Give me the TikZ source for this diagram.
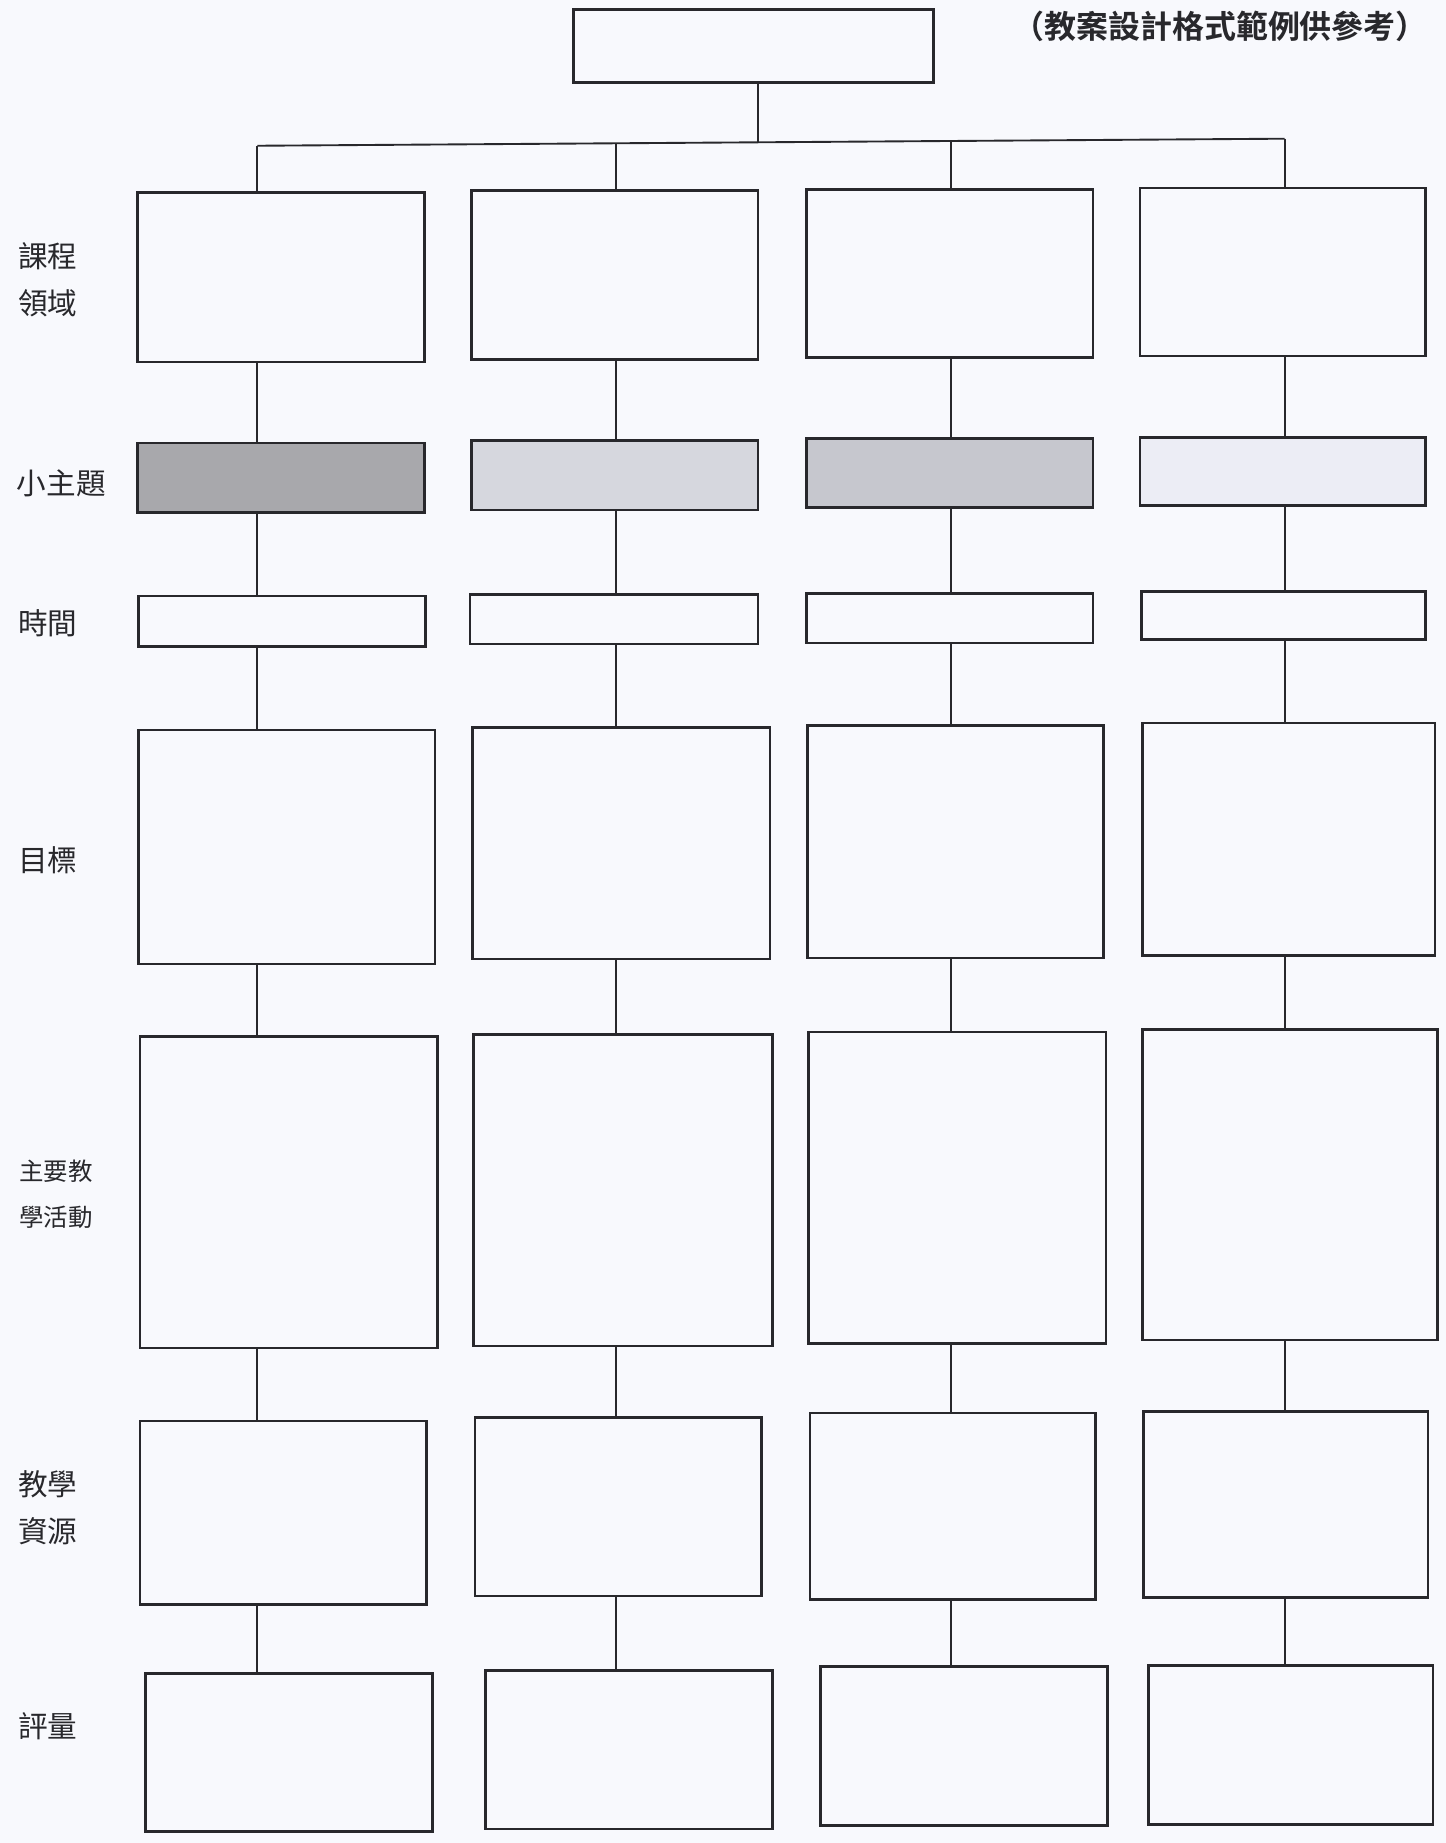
\documentclass[tikz,border=0pt]{standalone}
\usepackage{fontspec}
\newfontfamily\cjk{Noto Sans CJK TC}
\newfontfamily\cjkbold{Noto Sans CJK TC Bold}
\usetikzlibrary{fit}
\definecolor{bgc}{RGB}{248,249,253}
\definecolor{ink}{RGB}{40,40,44}
\definecolor{gA}{RGB}{168,168,172}
\definecolor{gB}{RGB}{214,215,222}
\definecolor{gC}{RGB}{198,199,206}
\definecolor{gD}{RGB}{236,237,245}
\tikzset{
  box/.style={draw=ink, line width=1.1pt, inner sep=0pt},
  link/.style={draw=ink, line width=0.8pt},
  lbl/.style={anchor=west, align=left, text=ink, inner sep=0pt, font=\cjk\fontsize{12.6}{20}\selectfont},
  lblsmall/.style={anchor=west, align=left, text=ink, inner sep=0pt, font=\cjk\fontsize{10.4}{19.5}\selectfont},
}
\newcommand\mkbox[6]{\node[box,#6, fit={(#2,#3)(#4,#5)}] (#1) {};}
\begin{document}
\begin{tikzpicture}[x=0.5pt,y=-0.5pt]
\fill[bgc] (0,0) rectangle (1230,1568);
\useasboundingbox (0,0) rectangle (1230,1568);

% title note
\node[text=ink, inner sep=0pt, font=\cjkbold\fontsize{13.6}{15}\selectfont] (note) at (1038,22) {（教案設計格式範例供參考）};

% top box
\mkbox{top}{488}{8}{794}{70}{}

% row 1
\mkbox{a1}{117}{164}{361}{308}{}
\mkbox{a2}{401}{162}{645}{306}{}
\mkbox{a3}{686}{161}{930}{304}{}
\mkbox{a4}{970}{160}{1213}{303}{}
% row 2
\mkbox{b1}{117}{377}{361}{436}{fill=gA}
\mkbox{b2}{401}{375}{645}{434}{fill=gB}
\mkbox{b3}{686}{373}{930}{432}{fill=gC}
\mkbox{b4}{970}{372}{1213}{430}{fill=gD}
% row 3
\mkbox{c1}{118}{507}{362}{550}{}
\mkbox{c2}{400}{506}{645}{548}{}
\mkbox{c3}{686}{505}{930}{547}{}
\mkbox{c4}{971}{503}{1213}{544}{}
% row 4
\mkbox{d1}{118}{621}{370}{820}{}
\mkbox{d2}{402}{619}{655}{816}{}
\mkbox{d3}{687}{617}{939}{815}{}
\mkbox{d4}{972}{615}{1221}{813}{}
% row 5
\mkbox{e1}{119}{882}{372}{1147}{}
\mkbox{e2}{403}{880}{657}{1145}{}
\mkbox{e3}{688}{878}{941}{1143}{}
\mkbox{e4}{972}{876}{1223}{1140}{}
% row 6
\mkbox{f1}{119}{1209}{363}{1365}{}
\mkbox{f2}{404}{1206}{648}{1358}{}
\mkbox{f3}{689}{1202}{932}{1361}{}
\mkbox{f4}{973}{1201}{1215}{1359}{}
% row 7
\mkbox{g1}{124}{1424}{368}{1558}{}
\mkbox{g2}{413}{1421}{657}{1556}{}
\mkbox{g3}{698}{1418}{942}{1553}{}
\mkbox{g4}{977}{1417}{1219}{1552}{}

% column x references
\coordinate (x1) at (219,0);
\coordinate (x2) at (524,0);
\coordinate (x3) at (809,0);
\coordinate (x4) at (1093,0);

% distribution line
\coordinate (j1) at (219,124);
\coordinate (j4) at (1093,118);
\coordinate (jm) at (645,121);
\draw[link] (j1) -- (j4);
\draw[link] (top.south -| jm) -- (jm);
\foreach \c/\y in {1/124,2/122,3/120,4/118}{
  \coordinate (jj\c) at (0,\y);
  \draw[link] (x\c |- jj\c) -- (a\c.north -| x\c);
}
\foreach \c in {1,2,3,4}{
  \draw[link] (a\c.south -| x\c) -- (b\c.north -| x\c);
  \draw[link] (b\c.south -| x\c) -- (c\c.north -| x\c);
  \draw[link] (c\c.south -| x\c) -- (d\c.north -| x\c);
  \draw[link] (d\c.south -| x\c) -- (e\c.north -| x\c);
  \draw[link] (e\c.south -| x\c) -- (f\c.north -| x\c);
  \draw[link] (f\c.south -| x\c) -- (g\c.north -| x\c);
}

% row labels
\node[lbl] (L1) at (15,238) {課程\\領域};
\node[lbl] (L2) at (14,411) {小主題};
\node[lbl] (L3) at (15,530) {時間};
\node[lbl] (L4) at (15,732) {目標};
\node[lblsmall] (L5) at (16,1016) {主要教\\學活動};
\node[lbl] (L6) at (15,1283) {教學\\資源};
\node[lbl] (L7) at (15,1469) {評量};
\end{tikzpicture}
\end{document}
